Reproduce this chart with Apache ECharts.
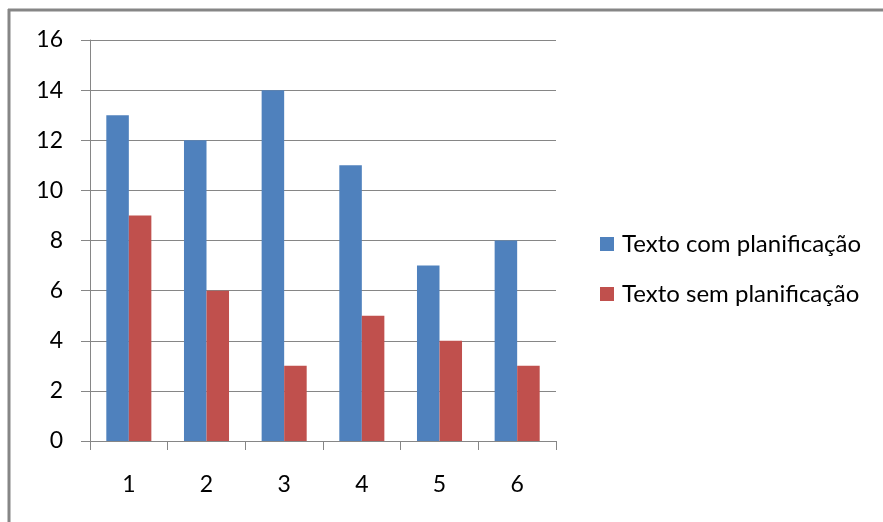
<!DOCTYPE html>
<html>
<head>
<meta charset="utf-8">
<script src="https://cdn.jsdelivr.net/npm/echarts@6/dist/echarts.min.js"></script>
<style>
  html, body { margin: 0; padding: 0; background: #fff; }
  #chart { width: 883px; height: 522px; }
</style>
</head>
<body>
<div id="chart"></div>
<script>
// Category labels along the x axis
const categories = ['1', '2', '3', '4', '5', '6'];
// Series values
const comPlanificacao = [13, 12, 14, 11, 7, 8];
const semPlanificacao = [9, 6, 3, 5, 4, 3];
// Y axis range
const yMin = 0, yMax = 16, yStep = 2;

const FONT = 'Lato';
const GRAY = '#868686';

const chart = echarts.init(document.getElementById('chart'), null, { renderer: 'canvas' });
chart.setOption({
  animation: false,
  backgroundColor: '#ffffff',
  textStyle: { fontFamily: FONT },
  graphic: [
    // frame lines along the top and left edges
    { type: 'line', shape: { x1: 8, y1: 10, x2: 883, y2: 10 }, style: { stroke: GRAY, lineWidth: 3 } },
    { type: 'line', shape: { x1: 9, y1: 9, x2: 9, y2: 522 }, style: { stroke: GRAY, lineWidth: 3 } }
  ],
  grid: { left: 90, right: 327, top: 40, bottom: 81 },
  legend: {
    orient: 'vertical',
    left: 600,
    top: 232,
    padding: 0,
    itemWidth: 14,
    itemHeight: 14,
    itemGap: 26,
    icon: 'rect',
    textStyle: { fontFamily: FONT, fontSize: 24, lineHeight: 24, color: '#000', padding: [0, 0, 0, 3] },
    data: ['Texto com planificação', 'Texto sem planificação']
  },
  xAxis: {
    type: 'category',
    data: categories,
    axisLine: { lineStyle: { color: GRAY, width: 1 } },
    axisTick: { show: true, length: 9, lineStyle: { color: GRAY } },
    axisLabel: { color: '#000', fontSize: 23, fontFamily: FONT, margin: 32 }
  },
  yAxis: {
    type: 'value',
    min: yMin,
    max: yMax,
    interval: yStep,
    axisLine: { show: true, lineStyle: { color: GRAY, width: 1 } },
    axisTick: { show: true, length: 9, lineStyle: { color: GRAY } },
    splitLine: { show: true, lineStyle: { color: GRAY, width: 1 } },
    axisLabel: { color: '#000', fontSize: 23, fontFamily: FONT, margin: 27 }
  },
  series: [
    {
      name: 'Texto com planificação',
      type: 'bar',
      data: comPlanificacao,
      barGap: '0%',
      barCategoryGap: '42%',
      itemStyle: { color: '#4F81BD' }
    },
    {
      name: 'Texto sem planificação',
      type: 'bar',
      data: semPlanificacao,
      itemStyle: { color: '#C0504D' }
    }
  ]
});
</script>
</body>
</html>
